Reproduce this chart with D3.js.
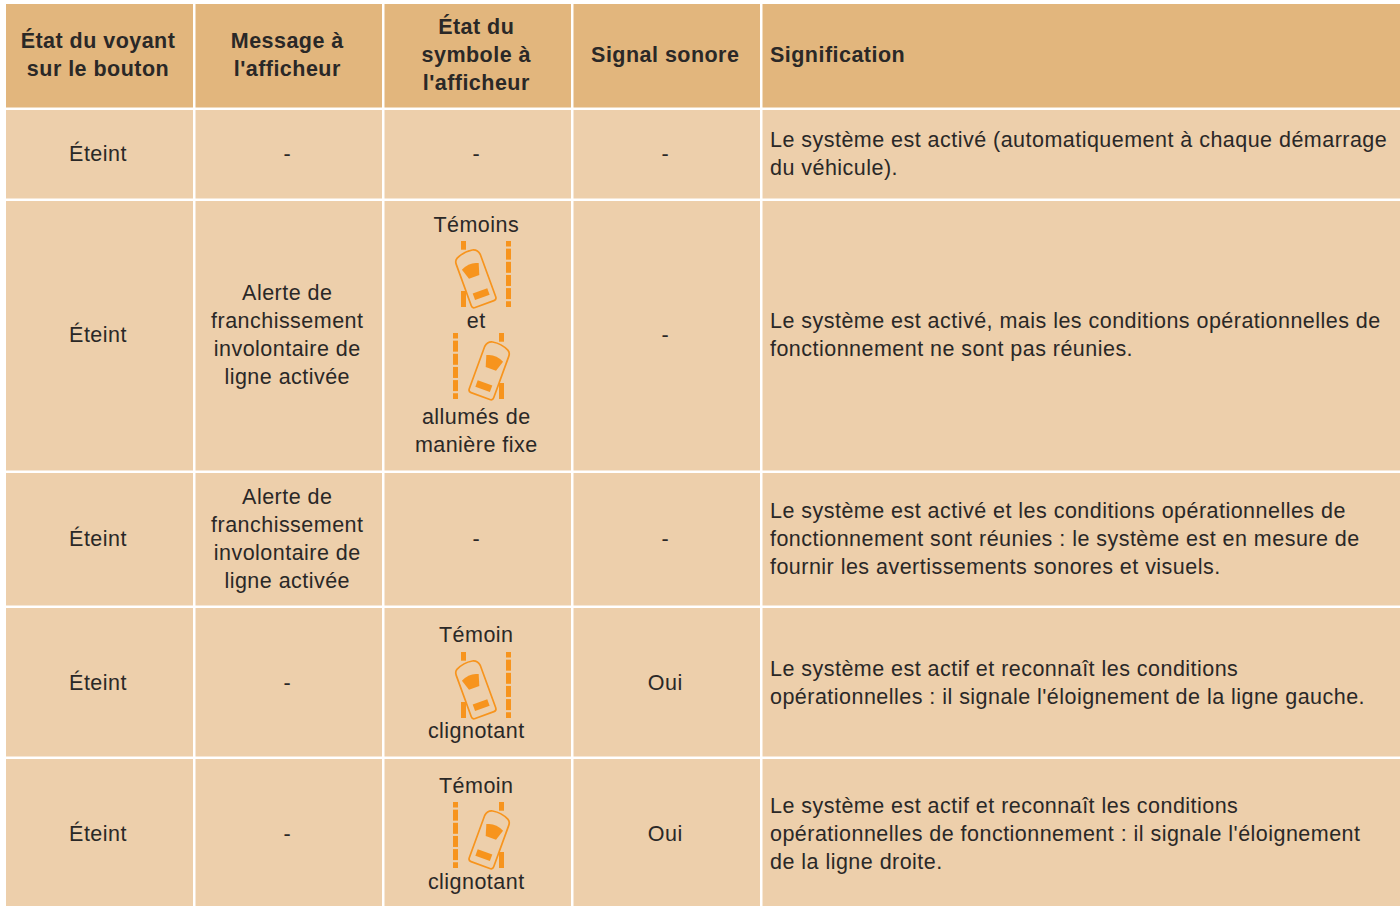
<!DOCTYPE html>
<html lang="fr">
<head>
<meta charset="utf-8">
<script src="https://cdn.jsdelivr.net/npm/d3@7"></script>
<style>
  html, body { margin: 0; background: #fff; }
  svg { display: block; }
  text { font-family: "Liberation Sans", Arial, sans-serif; fill: #2a2827; }
</style>
</head>
<body>
<svg width="1400" height="906"></svg>
<script>
const headers = [
  ["État du voyant", "sur le bouton"],
  ["Message à", "l'afficheur"],
  ["État du", "symbole à", "l'afficheur"],
  ["Signal sonore"],
  ["Signification"]
];

const voyant = ["Éteint", "Éteint", "Éteint", "Éteint", "Éteint"];

const messages = [
  ["-"],
  ["Alerte de", "franchissement", "involontaire de", "ligne activée"],
  ["Alerte de", "franchissement", "involontaire de", "ligne activée"],
  ["-"],
  ["-"]
];

// "@L" and "@R" stand for the left and right car symbol
const symboles = [
  ["-"],
  ["Témoins", "@L", "et", "@R", "allumés de", "manière fixe"],
  ["-"],
  ["Témoin", "@L", "clignotant"],
  ["Témoin", "@R", "clignotant"]
];

const sonore = ["-", "-", "-", "Oui", "Oui"];

const significations = [
  ["Le système est activé (automatiquement à chaque démarrage", "du véhicule)."],
  ["Le système est activé, mais les conditions opérationnelles de", "fonctionnement ne sont pas réunies."],
  ["Le système est activé et les conditions opérationnelles de", "fonctionnement sont réunies : le système est en mesure de", "fournir les avertissements sonores et visuels."],
  ["Le système est actif et reconnaît les conditions", "opérationnelles : il signale l'éloignement de la ligne gauche."],
  ["Le système est actif et reconnaît les conditions", "opérationnelles de fonctionnement : il signale l'éloignement", "de la ligne droite."]
];

const svg = d3.select("svg");

const columnEdges = [[6, 193], [195.5, 382], [384.5, 571], [573.5, 760], [762.5, 1400]];
const rowEdges = [[4, 107.5], [110, 198.5], [201, 470.5], [473, 605.5], [608, 756.5], [759, 906]];

// small per row corrections, the source is not on a regular baseline
const rowShift = [-0.8, -0.8, -0.8, -0.8, 0, 1.3];
const iconShift = { 2: [1.05, -2.95], 4: [2.75], 5: [1.2] };

const colorHeader = "#e2b67d";
const colorCell = "#edcfab";
const colorIcon = "#f7941d";

const lineHeight = 28;
const iconHeight = 68;

const fontSize = 21.5;
const spacing = 0.47;
const headerSize = 21.5;
const headerSpacing = 0.47;

const rows = voyant.map((d, i) => [[d], messages[i], symboles[i], [sonore[i]], significations[i]]);
const table = [headers].concat(rows);

const drawIcon = (g, side) => {
  const icon = g.append("g").attr("class", "icon")
    .attr("transform", side === "@R" ? "translate(43,0) scale(-1,1)" : null);
  const longX = side === "@R" ? 46 : 45;

  // long dashed line
  d3.range(6).forEach(i => {
    const y0 = i === 0 ? 0 : i * 13.15 - 5.5;
    const y1 = i === 5 ? 66 : i * 13.15 + 5.5;
    icon.append("rect")
      .attr("x", longX).attr("y", y0)
      .attr("width", 5).attr("height", y1 - y0)
      .attr("fill", colorIcon);
  });

  // short dashes on the other side
  icon.append("rect").attr("x", 0).attr("y", 0).attr("width", 5).attr("height", 8.7).attr("fill", colorIcon);
  icon.append("rect").attr("x", 0).attr("y", 50).attr("width", 5).attr("height", 16).attr("fill", colorIcon);

  // car body, windscreen and rear window
  const car = icon.append("g").attr("transform", "translate(14.3,37.7) rotate(-20)");
  car.append("path")
    .attr("d", "M-13,-20 Q-13,-24 -10,-25.5 Q-2,-29.5 7,-28 Q12,-27 13,-21 L13,24 Q13,27 10,27 L-10,27 Q-13,27 -13,24 Z")
    .attr("fill", "none")
    .attr("stroke", colorIcon)
    .attr("stroke-width", 1.7);
  car.append("path")
    .attr("d", "M-9.5,-13 Q0,-18 8.5,-13.5 L5,-2 L-6,-2 Z")
    .attr("fill", colorIcon);
  car.append("rect").attr("x", -7.5).attr("y", 13).attr("width", 15.5).attr("height", 7).attr("fill", colorIcon);
};

table.forEach((cells, r) => {
  const [top, bottom] = rowEdges[r];
  const isHeader = r === 0;

  cells.forEach((lines, c) => {
    const [left, right] = columnEdges[c];
    const cell = svg.append("g");

    cell.append("rect")
      .attr("x", left).attr("y", top)
      .attr("width", right - left).attr("height", bottom - top)
      .attr("fill", isHeader ? colorHeader : colorCell);

    const leftAligned = c === 4;
    const total = d3.sum(lines, d => d[0] === "@" ? iconHeight : lineHeight);
    let y = (top + bottom) / 2 - total / 2 + rowShift[r];
    let iconIndex = 0;

    lines.forEach(line => {
      if (line[0] === "@") {
        const g = cell.append("g")
          .attr("transform", `translate(${(left + right) / 2 - 16.75},${y + 1 + iconShift[r][iconIndex]})`);
        drawIcon(g, line);
        iconIndex += 1;
        y += iconHeight;
      } else {
        cell.append("text")
          .attr("x", leftAligned ? left + 7.5 : (left + right) / 2 - 1.5)
          .attr("y", y + lineHeight / 2 + 7.5)
          .attr("text-anchor", leftAligned ? "start" : "middle")
          .attr("font-size", isHeader ? headerSize : fontSize)
          .attr("font-weight", isHeader ? "bold" : "normal")
          .attr("letter-spacing", isHeader ? headerSpacing : spacing)
          .text(line);
        y += lineHeight;
      }
    });
  });
});
</script>
</body>
</html>
